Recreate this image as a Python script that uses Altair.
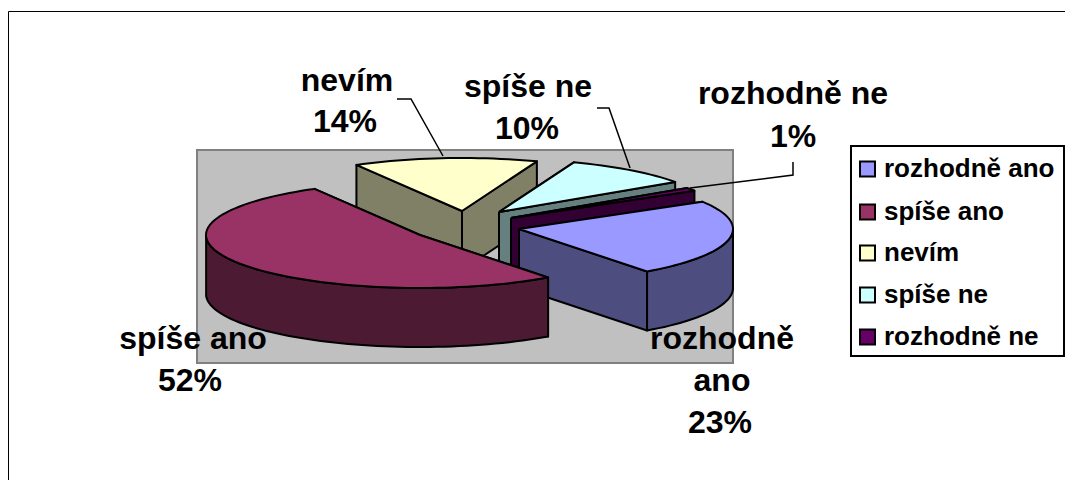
import math
import altair as alt
import pandas as pd

categories = ["rozhodně ano", "spíše ano", "nevím", "spíše ne", "rozhodně ne"]
values = [23.4, 52.0, 13.9, 9.7, 1.0]
top_colors = ["#9999FF", "#993366", "#FFFFCC", "#CCFFFF", "#660066"]
side_colors = ["#4D4D80", "#4D1A33", "#808066", "#668080", "#330033"]
apex_x = [519, 420, 462, 499, 511]
apex_y = [229, 235, 211, 212, 218]
paint_order = [2, 3, 4, 0, 1]

label_lines = [
    ("nevím", 347, 91), ("14%", 345, 132),
    ("spíše ne", 528, 97), ("10%", 527, 139),
    ("rozhodně ne", 793, 104), ("1%", 793, 147),
    ("spíše ano", 193, 349), ("52%", 190, 391),
    ("rozhodně", 722, 349), ("ano", 722, 391), ("23%", 720, 433),
]
leaders = [
    [(397, 99), (411, 99), (443, 156)],
    [(597, 108), (609, 108), (630, 168)],
    [(793, 162), (793, 175), (690, 188)],
]
legend_y = [169, 212, 253, 295, 337]

RX, RY, DEPTH, START = 214, 53, 59, 59

def rim(cx, cy, deg):
    r = math.radians(deg)
    return cx + RX * math.sin(r), cy - RY * math.cos(r)

polys = []
def add(points, fill):
    polys.append(dict(pts=points, fill=fill, id=len(polys)))

bounds = []
acc = START
for v in values:
    bounds.append((acc, acc + v * 3.6))
    acc += v * 3.6

for i in paint_order:
    a0, a1 = bounds[i]
    cx, cy = apex_x[i], apex_y[i]
    steps = max(2, int((a1 - a0) / 2))
    arc = [a0 + (a1 - a0) * k / steps for k in range(steps + 1)]
    top = [(cx, cy)] + [rim(cx, cy, d) for d in arc] + [(cx, cy)]
    for d in sorted((a0, a1), key=lambda q: rim(cx, cy, q)[1]):
        p = rim(cx, cy, d)
        add([(cx, cy), p, (p[0], p[1] + DEPTH), (cx, cy + DEPTH), (cx, cy)], side_colors[i])
    front = [d for d in arc if math.cos(math.radians(d)) <= 0]
    if len(front) > 1:
        upper = [rim(cx, cy, d) for d in front]
        lower = [(x, y + DEPTH) for x, y in reversed(upper)]
        add(upper + lower + [upper[0]], side_colors[i])
    add(top, top_colors[i])

rows = []
for p in polys:
    for s, (x, y) in enumerate(p["pts"]):
        rows.append(dict(x=x, y=y, fill=p["fill"], id=p["id"], seq=s))
poly_df = pd.DataFrame(rows)

xs = alt.Scale(domain=[8, 1065], nice=False, zero=False)
ys = alt.Scale(domain=[480, 8], nice=False, zero=False)
X = alt.X("x:Q", scale=xs, axis=None)
Y = alt.Y("y:Q", scale=ys, axis=None)

plot_bg = alt.Chart(pd.DataFrame([dict(x=197, x2=733, y=150, y2=363)])).mark_rect(
    fill="#C0C0C0", stroke="#808080", strokeWidth=2
).encode(X, alt.X2("x2:Q"), Y, alt.Y2("y2:Q"))

frame = alt.Chart(pd.DataFrame([dict(x=8.5, y=11.5, seq=2), dict(x=1065, y=11.5, seq=3),
                                dict(x=8.5, y=480, seq=1)])).mark_line(
    color="#000000", strokeWidth=1
).encode(X, Y, alt.Order("seq:Q"))

slices = alt.Chart(poly_df).mark_line(strokeWidth=2, stroke="#000000", strokeJoin="round").encode(
    X, Y, alt.Fill("fill:N", scale=None), alt.Detail("id:O"), alt.Order("seq:Q")
)

leader_df = pd.DataFrame(
    [dict(x=x, y=y, id=i, seq=s) for i, l in enumerate(leaders) for s, (x, y) in enumerate(l)]
)
leader_lines = alt.Chart(leader_df).mark_line(color="#000000", strokeWidth=1.5).encode(
    X, Y, alt.Detail("id:O"), alt.Order("seq:Q")
)

label_df = pd.DataFrame([dict(t=t, x=x, y=y) for t, x, y in label_lines])
labels = alt.Chart(label_df).mark_text(
    font="Liberation Sans", fontWeight="bold", fontSize=32, align="center", baseline="alphabetic", color="#000000"
).encode(X, Y, text="t:N")

legend_box = alt.Chart(pd.DataFrame([dict(x=851, x2=1064, y=146, y2=356)])).mark_rect(
    fill="#FFFFFF", stroke="#000000", strokeWidth=2
).encode(X, alt.X2("x2:Q"), Y, alt.Y2("y2:Q"))

legend_df = pd.DataFrame(
    [dict(t=c, fill=f, x=860, x2=875, y=y - 7.5, y2=y + 7.5, ty=y, tx=884)
     for c, f, y in zip(categories, top_colors, legend_y)]
)
legend_swatches = alt.Chart(legend_df).mark_rect(stroke="#000000", strokeWidth=2).encode(
    X, alt.X2("x2:Q"), Y, alt.Y2("y2:Q"), alt.Fill("fill:N", scale=None)
)
legend_text = alt.Chart(legend_df).mark_text(
    font="Liberation Sans", fontWeight="bold", fontSize=26, align="left", baseline="middle", color="#000000"
).encode(
    alt.X("tx:Q", scale=xs, axis=None),
    alt.Y("ty:Q", scale=ys, axis=None),
    text="t:N",
)

chart = alt.layer(
    frame, plot_bg, slices, leader_lines, labels,
    legend_box, legend_swatches, legend_text,
).properties(width=1057, height=472, padding=0, background="#FFFFFF",
             autosize=alt.AutoSizeParams(type="none")).configure_view(stroke=None)

chart.save("out.html", embed_options={"renderer": "svg", "actions": False})
